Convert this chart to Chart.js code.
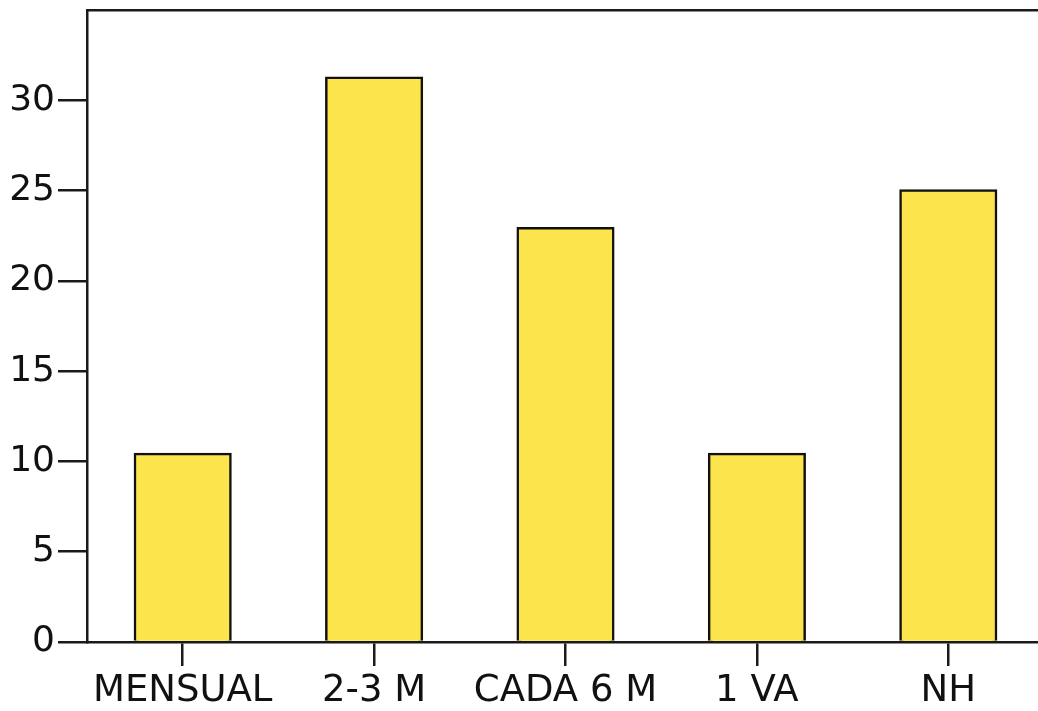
<!DOCTYPE html>
<html>
<head>
<meta charset="utf-8">
<script src="https://cdn.jsdelivr.net/npm/chart.js@4/dist/chart.umd.min.js"></script>
<style>
  html, body { margin: 0; padding: 0; background: #fff; overflow: hidden; }
  #wrap { width: 1050px; height: 711px; }
</style>
</head>
<body>
<div id="wrap"><canvas id="myChart" width="1050" height="711"></canvas></div>
<script>
// categories and values (percent, looks like n = 48)
var categories = ['MENSUAL', '2-3 M', 'CADA 6 M', '1 VA', 'NH'];
var percents = [10.42, 31.25, 22.92, 10.42, 25.0];
var yTicks = [0, 5, 10, 15, 20, 25, 30];

var axisColor = '#1a1a1a';
var ctx = document.getElementById('myChart').getContext('2d');
var chart = new Chart(ctx, {
    type: 'bar',
    data: {
        labels: categories,
        datasets: [{
            data: percents,
            backgroundColor: 'rgb(252, 228, 76)',
            borderColor: '#111',
            borderWidth: 2.5,
            inflateAmount: 1.2,
            barPercentage: 0.5,
            categoryPercentage: 1.0
        }]
    },
    options: {
        responsive: false,
        animation: false,
        layout: { padding: { top: 10, right: 6, left: 0, bottom: 0 } },
        plugins: { legend: { display: false }, tooltip: { enabled: false } },
        scales: {
            x: {
                position: 'bottom',
                grid: { drawOnChartArea: false, offset: false, tickLength: 24, color: axisColor, lineWidth: 2.5 },
                border: { color: axisColor, width: 2.5 },
                ticks: { color: '#111', font: { family: 'DejaVu Sans', size: 37 }, padding: 3, maxRotation: 0, autoSkip: false },
                afterFit: function (s) { s.height = 69; s.paddingLeft = 0; s.paddingRight = 0; }
            },
            xTop: {
                type: 'category',
                position: 'top',
                grid: { display: false },
                ticks: { display: false },
                border: { color: axisColor, width: 2.5 },
                afterFit: function (s) { s.height = 0; }
            },
            y: {
                min: 0,
                max: 35,
                grid: { drawOnChartArea: false, tickLength: 29, color: axisColor, lineWidth: 2.5 },
                border: { color: axisColor, width: 2.5 },
                ticks: { stepSize: 5, color: '#111', font: { family: 'DejaVu Sans', size: 36 }, padding: 3 },
                afterBuildTicks: function (s) {
                    s.ticks = yTicks.map(function (v) { return { value: v }; });
                },
                afterFit: function (s) { s.width = 87; s.paddingTop = 0; s.paddingBottom = 0; }
            }
        }
    }
});
</script>
</body>
</html>
